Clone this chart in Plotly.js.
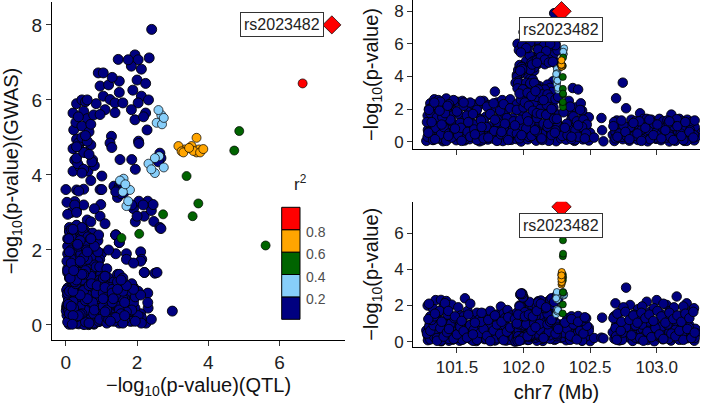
<!DOCTYPE html>
<html><head><meta charset="utf-8">
<script src="https://cdn.plot.ly/plotly-3.0.1.min.js"></script>
<style>html,body{margin:0;padding:0;background:#fff}#chart{width:709px;height:404px}</style>
</head><body><div id="chart"></div>
<script>
// Each SNP row: [position on chr7 (Mb), -log10 p GWAS, -log10 p QTL]
const baseSnps = [
[101.27,0.05,0.62],[101.282,0.72,0.08],[101.295,0.33,0.95],[101.307,0.91,0.41],[101.32,0.12,0.27],[101.332,0.58,0.77],
[101.345,1.02,0.15],[101.357,0.24,0.51],[101.37,0.81,0.88],[101.382,0.47,0.02],[101.395,0.03,0.36],[101.407,0.66,0.59],
[101.42,0.95,0.97],[101.432,0.18,0.71],[101.445,0.52,0.22],[101.457,0.86,0.48],[101.47,0.29,0.11],[101.482,0.74,0.83],
[101.495,0.09,0.93],[101.507,0.41,0.31],[101.52,0.98,0.05],[101.532,0.21,0.66],[101.545,0.63,0.44],[101.557,0.07,0.18],
[101.57,0.84,0.74],[101.582,0.36,0.9],[101.595,0.15,0.53],[101.607,0.69,0.12],[101.62,0.45,0.99],[101.632,1.05,0.35],
[101.645,0.26,0.03],[101.657,0.77,0.61],[101.67,0.02,0.79],[101.682,0.55,0.25],[101.695,0.89,0.47],[101.707,0.31,0.14],
[101.72,0.6,0.86],[101.732,0.13,0.39],[101.745,0.94,0.21],[101.757,0.4,0.68],[101.77,0.19,0.96],[101.782,0.7,0.07],
[101.795,0.51,0.55],[101.807,0.08,0.29],[101.82,0.83,0.92],[101.832,0.35,0.16],[101.845,0.04,0.72],[101.857,0.64,0.42],
[101.87,0.99,0.06],[101.882,0.27,0.81],[101.895,0.57,0.33],[101.907,0.11,0.58],[101.92,0.76,0.75],[101.932,0.38,0.01],
[101.945,0.16,0.45],[101.957,0.88,0.89],[101.97,0.49,0.19],[101.982,0.01,0.64],[101.995,0.71,0.37],[102.007,0.32,0.98],
[102.02,1.0,0.57],[102.032,0.14,0.09],[102.045,0.56,0.78],[102.057,0.85,0.26],[102.07,0.22,0.43],[102.082,0.67,0.94],
[102.095,0.06,0.13],[102.107,0.92,0.69],[102.12,0.43,0.85],[102.132,0.17,0.32],[102.145,0.79,0.04],[102.157,0.53,0.6],
[102.17,0.28,0.91],[102.182,0.97,0.23],[102.195,0.1,0.5],[102.207,0.62,0.8],[102.22,0.87,0.34],[102.232,0.37,0.1],
[102.245,0.03,0.67],[102.257,0.73,0.46],[102.27,0.5,0.95],[102.282,0.2,0.2],[102.295,0.9,0.54],[102.307,0.44,0.73],
[102.32,0.12,0.08],[102.332,0.68,0.38],[102.345,0.96,0.87],[102.357,0.3,0.63],[102.37,0.59,0.17],[102.382,0.05,0.49],
[102.395,0.82,0.7],[102.407,0.25,0.28],[102.42,0.46,0.97],[102.432,0.93,0.12],[102.445,0.14,0.4],[102.457,0.61,0.82],
[102.47,0.78,0.24],[102.482,0.34,0.58],[102.49,0.07,0.77],[102.5,0.54,0.03],
[102.67,0.42,0.52],[102.682,0.04,0.16],[102.695,0.8,0.9],[102.707,0.23,0.35],[102.72,0.63,0.07],[102.732,0.97,0.66],
[102.745,0.15,0.81],[102.757,0.55,0.28],[102.77,0.88,0.45],[102.782,0.32,0.99],[102.795,0.06,0.22],[102.807,0.71,0.61],
[102.82,0.48,0.04],[102.832,0.91,0.76],[102.845,0.2,0.37],[102.857,0.65,0.92],[102.87,0.99,0.14],[102.882,0.38,0.55],
[102.895,0.11,0.7],[102.907,0.75,0.31],[102.92,0.57,0.86],[102.932,0.02,0.09],[102.945,0.84,0.48],[102.957,0.27,0.2],
[102.97,0.46,0.65],[102.982,0.93,0.02],[102.995,0.17,0.96],[103.007,0.6,0.42],[103.02,0.79,0.27],[103.032,0.09,0.74],
[103.045,0.52,0.13],[103.057,0.95,0.58],[103.07,0.29,0.88],[103.082,0.7,0.33],[103.095,0.01,0.51],[103.107,0.44,0.06],
[103.12,0.86,0.79],[103.132,0.35,0.24],[103.145,0.13,0.6],[103.157,0.67,0.97],[103.17,0.9,0.1],[103.182,0.24,0.43],
[103.195,0.58,0.84],[103.207,0.05,0.3],[103.22,0.74,0.56],[103.232,0.39,0.19],[103.245,0.98,0.91],[103.257,0.21,0.68],
[103.27,0.47,0.34],[103.282,0.08,0.05],[103.29,0.66,0.71],[103.295,0.31,0.47],
[101.29,0.6,0.3],[101.34,0.4,0.62],[101.39,0.15,0.85],[101.44,0.85,0.05],[101.49,0.5,0.4],[101.54,0.3,0.78],
[101.59,0.92,0.5],[101.64,0.62,0.2],[101.69,0.08,0.55],[101.74,0.7,0.95],[101.79,0.38,0.08],[101.84,0.95,0.62],
[101.89,0.22,0.3],[101.94,0.6,0.7],[101.99,0.9,0.1],[102.04,0.3,0.45],[102.09,0.75,0.85],[102.14,0.45,0.15],
[102.19,0.05,0.78],[102.24,0.65,0.55],[102.29,0.35,0.25],[102.34,0.8,0.6],[102.39,0.1,0.92],[102.44,0.55,0.07],
[102.485,0.28,0.4],[102.69,0.6,0.75],[102.74,0.3,0.1],[102.79,0.92,0.5],[102.84,0.45,0.22],[102.89,0.15,0.95],
[102.94,0.7,0.6],[102.99,0.25,0.35],[103.04,0.85,0.85],[103.09,0.5,0.15],[103.14,0.05,0.65],[103.19,0.8,0.4],
[103.24,0.4,0.8],[103.285,0.9,0.2]
];
const gwasHighSnps = [
[101.28,1.6,0.35],[101.30,2.35,0.12],[101.31,1.3,0.7],[101.33,2.6,0.25],[101.345,1.85,0.9],[101.36,2.55,0.5],
[101.38,2.1,0.05],[101.40,1.45,0.6],[101.42,2.65,0.3],[101.44,2.0,0.15],[101.46,1.25,0.85],[101.47,2.4,0.55],
[101.29,2.0,0.8],[101.35,1.15,0.2],[101.41,1.9,1.0],[101.455,1.6,0.4],
[101.50,2.45,0.22],[101.52,1.65,0.55],[101.54,2.5,0.1],[101.56,1.35,0.75],[101.58,2.05,0.68],[101.60,1.25,0.3],
[101.62,2.3,0.05],[101.64,1.75,0.95],[101.66,2.2,0.6],[101.68,1.4,0.42],[101.70,2.5,0.38],[101.72,1.55,0.15],
[101.74,2.25,0.82],[101.76,1.9,0.5],[101.785,3.07,0.3],[101.80,2.4,0.18],[101.82,1.5,0.88],[101.84,2.55,0.2],
[101.86,1.7,0.9],[101.88,2.35,0.6],[101.90,2.6,0.1],[101.92,1.45,0.35],
[101.95,2.3,0.4],[101.99,1.8,0.7],[102.04,2.5,0.1],[102.09,1.6,0.5],[102.13,2.35,0.85],[102.17,1.9,0.25],
[102.2,2.45,0.6],[102.245,1.7,0.15],
[102.33,2.3,0.4],[102.35,1.8,0.1],[102.37,3.29,0.25],[102.39,2.1,0.7],[102.41,3.2,0.5],[102.43,2.35,0.15],
[102.45,1.6,0.8],[102.47,1.3,0.3],[102.49,1.5,0.6],[102.36,1.4,0.9],[102.44,1.9,0.05],[102.34,2.5,0.55],
[102.745,3.62,0.5],[102.695,2.66,0.3],[102.77,2.05,0.8],[102.875,1.74,0.2],[103.11,1.66,0.45],[102.70,1.3,0.1],
[102.73,1.2,0.6],[102.81,1.35,0.35],[102.84,1.25,0.9],[102.90,1.4,0.05],[102.93,1.2,0.55],[102.96,1.35,0.25],
[102.99,1.15,0.75],[103.02,1.4,0.4],[103.05,1.25,0.15],[103.08,1.3,0.95],[103.14,1.2,0.3],[103.17,1.4,0.6],
[103.20,1.25,0.1],[103.23,1.35,0.7],[103.26,1.2,0.2],[103.285,1.3,0.5],
[101.275,1.2,0.45],[101.3,1.75,0.6],[101.325,2.25,0.9],[101.35,1.5,0.05],[101.375,2.45,0.75],[101.4,1.1,0.28],
[101.425,2.05,0.52],[101.45,1.35,0.98],[101.475,2.55,0.15],[101.5,1.85,0.4],[101.525,1.15,0.82],[101.55,2.2,0.58],
[101.575,1.6,0.22],[101.6,2.4,0.92],[101.625,1.05,0.65],[101.65,1.95,0.1],[101.675,2.5,0.48],[101.7,1.3,0.7],
[101.725,2.15,0.32],[101.75,1.7,0.03],[101.775,2.35,0.62],[101.8,1.2,0.95],[101.825,1.9,0.42],[101.85,2.3,0.08],
[101.875,1.45,0.55],[101.9,2.05,0.78],[101.925,1.25,0.2],[101.95,1.95,0.9],[101.975,1.35,0.5],[102.0,2.1,0.35],
[102.025,1.55,0.85],[102.05,1.15,0.25],[102.075,2.3,0.7],[102.1,1.45,0.05],[102.125,2.0,0.58],[102.15,1.1,0.92],
[102.175,2.25,0.4],[102.2,1.65,0.15],[102.225,2.1,0.8],[102.25,1.2,0.3],[102.3,1.8,0.5],[102.325,1.1,0.72],
[102.35,2.15,0.33],[102.375,1.55,0.95],[102.4,1.25,0.12],[102.425,1.95,0.6],[102.45,1.35,0.45],[102.475,1.05,0.88],
[101.44,2.3,0.7],[101.62,1.7,0.4]
];
const qtlHighSnps = [
[101.28,0.3,2.0],[101.30,0.6,1.4],[101.32,0.1,1.85],[101.34,0.85,2.3],[101.36,0.2,1.6],[101.38,0.45,2.31],
[101.40,0.9,1.95],[101.42,0.05,2.25],[101.44,0.5,1.5],[101.46,0.25,2.05],[101.48,0.7,1.3],[101.31,1.2,1.2],
[101.39,1.5,1.15],[101.29,1.95,2.1],[101.41,1.75,2.13],[101.37,1.9,1.7],[101.33,2.4,1.4],[101.43,2.2,1.5],
[101.51,0.4,1.9],[101.53,0.85,1.45],[101.56,0.15,2.4],[101.58,0.6,1.7],[101.60,0.3,2.1],[101.63,0.75,1.35],
[101.65,0.1,1.6],[101.67,0.5,1.25],[101.70,0.2,1.55],[101.72,0.9,1.3],[101.75,0.35,1.7],[101.78,0.65,1.4],
[101.80,0.05,1.5],[101.83,0.45,1.94],[101.85,0.8,1.55],[101.88,0.25,1.75],[101.91,0.55,1.45],[101.68,1.3,1.1],
[101.86,1.1,1.3],[101.55,2.4,1.4],
[101.95,0.5,1.6],[101.97,0.2,2.0],[102.02,0.8,1.75],[102.06,0.35,1.45],[102.1,0.6,1.9],[102.14,0.1,1.55],
[102.18,0.9,1.8],[102.21,0.4,1.35],[102.24,0.7,1.65],
[102.33,0.4,1.3],[102.36,0.15,1.4],[102.39,0.7,1.2],[102.41,0.3,1.42],[102.44,0.9,1.15],[102.47,0.5,1.3],
[102.69,0.2,2.12],[102.77,0.37,2.99],[102.80,0.9,2.03],[102.86,0.1,1.8],[102.925,1.4,2.21],[103.0,0.6,2.3],
[103.075,0.25,2.03],[103.15,1.38,2.5],[103.225,0.05,2.12],[102.72,0.5,1.6],[102.75,1.0,1.9],[102.83,0.35,1.5],
[102.89,0.75,1.95],[102.95,0.15,1.65],[102.98,1.1,1.85],[103.03,0.45,1.55],[103.05,0.8,2.1],[103.10,0.3,1.7],
[103.13,0.95,1.9],[103.18,0.5,1.45],[103.20,0.1,1.95],[103.25,0.7,1.6],[103.28,0.4,1.85],[102.68,1.2,1.4],
[102.87,1.25,1.2],[103.09,1.15,1.35],
[101.285,0.55,1.25],[101.335,0.15,1.55],[101.385,1.05,1.1],[101.435,0.35,1.7],[101.485,0.8,1.4],[101.535,0.05,1.15],
[101.585,1.2,1.5],[101.635,0.45,1.05],[101.685,0.9,1.6],[101.735,0.25,1.2],[101.785,1.35,1.45],[101.835,0.6,1.1],
[101.885,0.1,1.35],[101.935,1.0,1.25],[101.985,0.4,1.5],[102.035,1.25,1.05],[102.085,0.7,1.3],[102.135,0.2,1.15],
[102.185,1.1,1.6],[102.235,0.55,1.1],[102.31,0.85,1.05],[102.36,0.3,1.25],[102.41,1.0,1.1],[102.46,0.2,1.35],
[102.675,0.95,1.3],[102.705,0.3,1.55],[102.735,1.3,1.1],[102.765,0.6,1.65],[102.795,0.15,1.2],[102.825,1.15,1.45],
[102.855,0.5,1.05],[102.885,0.05,1.6],[102.915,0.85,1.3],[102.945,1.35,1.5],[102.975,0.4,1.15],[103.005,1.05,1.7],
[103.035,0.2,1.4],[103.065,0.7,1.05],[103.095,1.25,1.6],[103.125,0.1,1.25],[103.155,0.95,1.45],[103.185,0.35,1.1],
[103.215,1.2,1.55],[103.245,0.6,1.3],[103.275,0.25,1.65]
];
const gapSnps = [[102.53,0.25,0.2],[102.585,1.45,0.22],[102.59,0.7,1.33],[102.60,0.02,0.18]];
const peakSnps = [
[101.95,4.1,0.2],[101.96,4.4,0.25],[101.97,4.7,0.2],[102.02,4.95,0.3],[102.09,5.2,0.22],[102.12,5.4,0.28],
[101.975,5.65,0.2],[101.985,5.9,0.3],[101.955,6.0,0.45],[102.01,5.95,0.55],[102.15,5.7,0.5],[102.18,5.5,0.6],
[102.045,5.3,0.45],[102.21,5.15,0.65],[102.075,4.95,0.5],[102.24,4.8,0.7],[101.99,4.6,0.55],[102.04,4.4,0.75],
[102.06,4.2,0.4],[101.965,4.1,0.62],[102.005,4.25,0.8],[102.14,5.9,0.85],[102.195,5.55,0.35],[102.25,4.85,0.4],
[102.225,5.35,0.7],[102.24,6.0,0.6],[102.255,5.6,0.78],[102.07,4.3,0.33],[102.105,4.75,0.36],[101.98,4.45,0.3],
[102.03,4.15,0.5],[102.08,4.35,0.73],
[102.04,4.6,0.5],[102.06,4.85,0.35],[102.08,4.55,0.65],[102.035,4.05,0.45],[102.05,3.85,0.7],[102.1,5.0,0.45],
[102.13,4.9,0.6],[102.16,4.75,0.3],[102.19,5.05,0.55],
[102.00,6.72,0.91],[102.03,6.37,0.96],[102.06,6.1,1.05],[102.09,6.4,1.2],[102.12,6.01,1.24],[102.15,5.92,1.38],
[102.07,7.08,1.47],[102.18,6.5,1.5],[102.21,6.2,1.5],[102.035,5.74,1.1],[101.965,5.61,0.96],[102.11,5.66,1.38],
[102.24,5.92,1.6],[102.14,6.6,1.3],[102.17,6.72,1.05],
[102.04,7.2,1.94],[102.08,7.07,2.03],[102.13,6.9,1.84],[102.16,6.82,2.12],[102.19,6.53,2.0],[102.22,6.44,2.24],
[102.10,6.26,1.88],[102.05,6.1,2.12],[101.99,5.92,2.03],[102.02,5.74,1.84],[102.11,5.65,2.24],[101.98,5.47,1.94],
[102.20,6.0,2.32],[102.25,7.07,1.75],[102.17,5.55,2.18],[102.23,7.88,2.41],[102.26,7.12,2.34],
[102.13,5.2,2.28],[102.16,5.03,1.28],[102.19,4.85,1.24],[102.22,4.9,2.04],[102.00,4.41,1.52],[102.05,4.41,1.85],
[101.97,4.15,1.95],[102.065,4.73,1.29],[102.10,4.84,2.05],[101.95,3.97,1.01],[101.985,4.58,2.64],[101.99,4.45,2.67],
[101.975,4.35,2.6],[102.22,3.7,1.35],[102.01,3.53,1.63],[101.96,3.7,1.5],[102.04,3.6,1.45],[102.07,3.8,1.55],
[102.12,3.4,1.45],[102.15,3.1,1.9],[102.18,3.5,1.55],[102.2,3.3,2.3],[102.06,3.3,2.05],[102.09,3.55,1.4],
[102.045,2.9,2.2],[102.1,2.75,1.95],[102.21,3.05,2.4],
[101.94,3.61,0.0],[101.96,3.6,0.3],[102.02,3.61,0.96],[102.05,3.57,0.36],[102.08,3.61,1.01],[101.955,3.27,0.03],
[101.98,3.0,0.15],[102.0,3.2,0.25],[102.12,3.21,0.98],[102.16,3.2,1.85],[102.0,2.76,2.47],[101.995,3.21,2.45],
[102.11,3.2,2.17],[102.14,2.9,2.0],[101.99,2.6,2.64],[101.98,2.57,2.67],[102.18,2.9,0.96],[102.2,2.7,1.1],
[101.97,2.95,0.05],[102.03,3.0,0.3],[102.06,2.8,0.6],[102.09,3.1,0.8],[102.24,2.6,0.45],[102.26,2.75,0.7],
[102.15,2.55,0.2],[102.01,2.4,1.4],[102.04,2.2,1.5],[102.07,1.9,1.4],[102.1,1.75,1.7],[102.13,1.7,2.1],
[102.17,1.65,1.9],[102.21,2.0,1.2],[102.23,1.4,2.2],[102.25,1.4,2.56]
];
// SNPs in LD with the lead SNP: [position (Mb), GWAS, QTL, r2]
const ldSnps = [
[102.305,5.73,2.6,0.3],[102.3,5.6,2.68,0.25],[102.298,5.52,2.75,0.35],[102.302,5.39,2.55,0.28],[102.3,5.35,2.7,0.32],
[102.25,4.45,2.5,0.3],[102.255,4.3,2.32,0.25],[102.245,4.15,2.4,0.35],[102.26,4.5,2.62,0.22],[102.25,4.2,2.75,0.3],[102.248,4.05,2.5,0.27],
[102.245,3.85,1.52,0.3],[102.25,3.9,1.62,0.25],[102.255,3.75,1.67,0.33],[102.25,3.55,1.6,0.28],[102.258,3.3,1.75,0.36],[102.26,3.17,1.7,0.3],[102.252,3.6,1.8,0.24],
[102.295,3.97,3.39,0.5],[102.297,5.17,4.87,0.55],[102.295,4.65,4.73,0.5],[102.296,2.12,5.61,0.45],[102.295,3.24,3.72,0.5],
[102.297,2.9,3.56,0.48],[102.296,2.95,2.73,0.52],[102.295,2.43,2.06,0.46],[102.294,2.32,1.56,0.42],
[102.285,4.77,3.16,0.7],[102.287,4.63,3.25,0.72],[102.286,4.68,3.34,0.68],[102.284,4.72,3.46,0.75],[102.288,4.64,3.58,0.7],
[102.285,4.99,3.67,0.78],[102.286,4.68,3.74,0.66],[102.287,4.69,3.86,0.74],[102.285,4.6,3.77,0.7],[102.284,4.6,3.67,0.65],
[102.286,4.6,3.3,0.72],[102.285,4.77,3.53,0.69],
[102.285,6.44,6.65,0.9]
];
const leadSnp = {name: 'rs2023482', pos: 102.285, gwas: 8.0, qtl: 7.47};
const r2Breaks = [0, 0.2, 0.4, 0.6, 0.8, 1];
const r2Colors = ['#000080', '#87CEFA', '#006400', '#FFA500', '#FF0000'];
const qtlTicks = [0, 2, 4, 6];
const gwasTicks = [0, 2, 4, 6, 8];
const posTicks = [101.5, 102.0, 102.5, 103.0];
const posTickText = ['101.5', '102.0', '102.5', '103.0'];

const W = 709, H = 404;
const FONT = 'Liberation Sans, Arial, sans-serif';
const colorOf = r2 => { for (let i = r2Breaks.length - 2; i >= 0; i--) if (r2 >= r2Breaks[i]) return r2Colors[i]; return r2Colors[0]; };
const navySnps = [].concat(baseSnps, gwasHighSnps, qtlHighSnps, gapSnps, peakSnps);
const ldSorted = ldSnps.slice().sort((a, b) => a[3] - b[3]);
const col = (rows, i) => rows.map(r => r[i]);
const leadRow = [leadSnp.pos, leadSnp.gwas, leadSnp.qtl];

function panel(xi, yi, xa, ya, navySize, ldSize, leadSize) {
  return [
    {type: 'scatter', mode: 'markers', x: col(navySnps, xi), y: col(navySnps, yi), xaxis: xa, yaxis: ya,
     marker: {color: r2Colors[0], size: navySize, line: {color: '#000', width: 0.9}}, hoverinfo: 'skip'},
    {type: 'scatter', mode: 'markers', x: col(ldSorted, xi), y: col(ldSorted, yi), xaxis: xa, yaxis: ya,
     marker: {color: ldSorted.map(r => colorOf(r[3])), size: ldSize, line: {color: '#000', width: 0.7}}, hoverinfo: 'skip'},
    {type: 'scatter', mode: 'markers', x: [leadRow[xi]], y: [leadRow[yi]],
     xaxis: xa, yaxis: ya, marker: {symbol: 'diamond', color: '#FF0000', size: leadSize, line: {color: '#000', width: 0.7}}, hoverinfo: 'skip'}
  ];
}
const traces = [].concat(
  panel(2, 1, 'x', 'y', 10, 9, 14),
  panel(0, 1, 'x2', 'y2', 9.5, 7, 15),
  panel(0, 2, 'x3', 'y3', 9.5, 7, 15)
);

const axBase = {showline: true, linecolor: '#000', linewidth: 1, ticks: 'outside', ticklen: 5, tickcolor: '#333',
  showgrid: false, zeroline: false, tickmode: 'array', automargin: false};
const tf = s => ({family: FONT, size: s, color: '#222'});
const titleFont = {family: FONT, size: 20, color: '#111'};

const keyX0 = 281.7, keyX1 = 300, keyTop = 207.3, keyBottom = 319.3;
const keyY = v => keyBottom - (v - r2Breaks[0]) / (r2Breaks[r2Breaks.length - 1] - r2Breaks[0]) * (keyBottom - keyTop);
const shapes = r2Colors.map((c, i) => ({type: 'rect', xref: 'paper', yref: 'paper',
  x0: keyX0 / W, x1: keyX1 / W, y0: 1 - keyY(r2Breaks[i]) / H, y1: 1 - keyY(r2Breaks[i + 1]) / H,
  fillcolor: c, line: {color: '#000', width: 1}, layer: 'above'}));
const annotations = r2Breaks.slice(1, -1).map(b => ({xref: 'paper', yref: 'paper', x: 304 / W, y: 1 - keyY(b) / H,
  text: b.toFixed(1), showarrow: false, xanchor: 'left', yanchor: 'middle', yshift: -2,
  font: {family: FONT, size: 14, color: '#4d4d4d'}}));
annotations.push({xref: 'paper', yref: 'paper', x: 292 / W, y: 1 - 183 / H, text: 'r<sup>2</sup>', showarrow: false,
  xanchor: 'left', yanchor: 'middle', font: {family: FONT, size: 17, color: '#222'}});
const labelStyle = {text: leadSnp.name, showarrow: false, bgcolor: '#fff', bordercolor: '#333', borderwidth: 1, borderpad: 3,
  font: {family: FONT, size: 16, color: '#222'}};
annotations.push(Object.assign({xref: 'x', yref: 'y', x: leadSnp.qtl, y: leadSnp.gwas, xanchor: 'right', yanchor: 'middle', xshift: -8}, labelStyle));
annotations.push(Object.assign({xref: 'x2', yref: 'y2', x: leadSnp.pos, y: leadSnp.gwas, xanchor: 'center', yanchor: 'top', yshift: -6}, labelStyle));
annotations.push(Object.assign({xref: 'x3', yref: 'y3', x: leadSnp.pos, y: leadSnp.qtl, xanchor: 'center', yanchor: 'top', yshift: -6}, labelStyle));

const yTitle = '\u2212log<sub>10</sub>(p-value)';
const layout = {
  width: W, height: H, autosize: false, showlegend: false,
  margin: {l: 0, r: 0, t: 0, b: 0, pad: 0},
  paper_bgcolor: '#fff', plot_bgcolor: '#fff',
  font: {family: FONT},
  xaxis: Object.assign({}, axBase, {domain: [52 / W, 345 / W], range: [-0.39, 7.84], anchor: 'y', tickvals: qtlTicks,
    tickfont: tf(19), title: {text: yTitle + '(QTL)', font: titleFont, standoff: 6}}),
  yaxis: Object.assign({}, axBase, {domain: [1 - 340 / H, 1 - 2 / H], range: [-0.4, 8.61], anchor: 'x', tickvals: gwasTicks,
    tickfont: tf(19), title: {text: yTitle + '(GWAS)', font: titleFont, standoff: 8}}),
  xaxis2: Object.assign({}, axBase, {domain: [413 / W, 700 / W], range: [101.17, 103.325], anchor: 'y2', tickvals: posTicks,
    showticklabels: false}),
  yaxis2: Object.assign({}, axBase, {domain: [1 - 149 / H, 1], range: [-0.45, 8.69], anchor: 'x2', tickvals: gwasTicks,
    tickfont: tf(17), title: {text: yTitle, font: titleFont, standoff: 10}}),
  xaxis3: Object.assign({}, axBase, {domain: [413 / W, 700 / W], range: [101.17, 103.325], anchor: 'y3', tickvals: posTicks,
    ticktext: posTickText, tickfont: tf(17), title: {text: 'chr7 (Mb)', font: titleFont, standoff: 8}}),
  yaxis3: Object.assign({}, axBase, {domain: [1 - 346.7 / H, 1 - 201.7 / H], range: [-0.28, 7.75], anchor: 'x3', tickvals: [0, 2, 4, 6],
    tickfont: tf(17), title: {text: yTitle, font: titleFont, standoff: 10}}),
  shapes: shapes, annotations: annotations
};
Plotly.newPlot('chart', traces, layout, {displayModeBar: false, staticPlot: true});
</script>
</body></html>
